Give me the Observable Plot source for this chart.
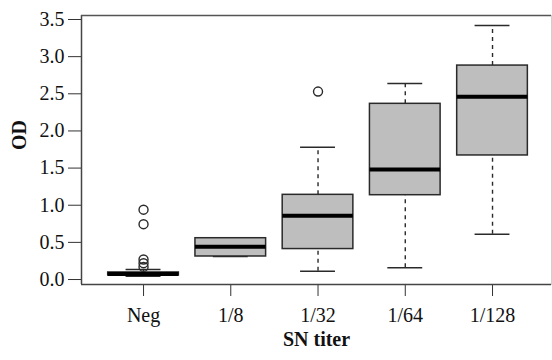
<!DOCTYPE html>
<html>
<head>
<meta charset="utf-8">
<script src="https://cdn.jsdelivr.net/npm/d3@7"></script>
<script src="https://cdn.jsdelivr.net/npm/@observablehq/plot@0.6"></script>
<style>
  html, body { margin: 0; padding: 0; background: #fff; }
  #chart svg { display: block; }
</style>
</head>
<body>
<div id="chart"></div>
<script>
// Data
const categories   = ["Neg", "1/8", "1/32", "1/64", "1/128"];
const lowerWhisker = [0.045, 0.31, 0.11, 0.16, 0.61];
const q1           = [0.055, 0.31, 0.41, 1.135, 1.67];
const median       = [0.075, 0.44, 0.86, 1.48, 2.46];
const q3           = [0.095, 0.556, 1.14, 2.365, 2.88];
const upperWhisker = [0.135, 0.556, 1.78, 2.64, 3.42];
const outlierGroup = ["Neg", "Neg", "Neg", "Neg", "Neg", "1/32"];
const outlierValue = [0.94, 0.745, 0.27, 0.22, 0.17, 2.53];
const yTicks = [0, 0.5, 1, 1.5, 2, 2.5, 3, 3.5];

const boxes = categories.map((c, i) => ({
  cat: c, pos: i + 1,
  lo: lowerWhisker[i], q1: q1[i], med: median[i], q3: q3[i], hi: upperWhisker[i]
}));
const outliers = outlierGroup.map((c, i) => ({ pos: categories.indexOf(c) + 1, v: outlierValue[i] }));

const HB = 0.405; // half box width (x units)
const HC = 0.2;   // half cap width
const ink = "#2a2a2a";

const chart = Plot.plot({
  width: 552,
  height: 360,
  marginLeft: 81,
  marginRight: 1,
  marginTop: 15,
  marginBottom: 76,
  style: { fontFamily: "Liberation Serif", fontSize: "20px", color: "#111", background: "#fff" },
  x: { type: "linear", domain: [0.289, 5.676] },
  y: { domain: [-0.067, 3.554] },
  marks: [
    Plot.frame({ stroke: "#d0d0d0", strokeWidth: 1 }),
    // whiskers
    Plot.ruleX(boxes, { x: "pos", y1: "q3", y2: "hi", stroke: ink, strokeWidth: 1.4, strokeDasharray: "4,4" }),
    Plot.ruleX(boxes, { x: "pos", y1: "lo", y2: "q1", stroke: ink, strokeWidth: 1.4, strokeDasharray: "4,4" }),
    // caps
    Plot.ruleY(boxes, { y: "hi", x1: d => d.pos - HC, x2: d => d.pos + HC, stroke: ink, strokeWidth: 1.5 }),
    Plot.ruleY(boxes, { y: "lo", x1: d => d.pos - HC, x2: d => d.pos + HC, stroke: ink, strokeWidth: 1.5 }),
    // boxes
    Plot.rect(boxes, { x1: d => d.pos - HB, x2: d => d.pos + HB, y1: "q1", y2: "q3", fill: "#bebebe", stroke: ink, strokeWidth: 1.5 }),
    // medians
    Plot.ruleY(boxes, { y: "med", x1: d => d.pos - HB, x2: d => d.pos + HB, stroke: "#000", strokeWidth: 4 }),
    // outliers
    Plot.dot(outliers, { x: "pos", y: "v", r: 4.5, stroke: ink, strokeWidth: 1.4, fill: "none" }),
    // axes
    Plot.axisY({ ticks: yTicks, tickFormat: d => d.toFixed(1), tickSize: 13, tickPadding: 4, label: null, stroke: "#333" }),
    Plot.axisX({ ticks: [1, 2, 3, 4, 5], tickFormat: d => categories[d - 1], tickSize: 12, tickPadding: 11, label: null, stroke: "#333" }),
    Plot.ruleY([-0.067], { stroke: "#444", strokeWidth: 1.5 }),
    Plot.ruleX([0.289], { stroke: "#444", strokeWidth: 1.5 }),
    Plot.ruleY([3.554], { stroke: "#555", strokeWidth: 1.5 }),
    // axis titles
    Plot.text(["SN titer"], { frameAnchor: "bottom", dy: 61, fontWeight: "bold", fontSize: 20, fill: "#111" }),
    Plot.text(["OD"], { frameAnchor: "left", dx: -62, rotate: -90, fontWeight: "bold", fontSize: 20, fill: "#111" })
  ]
});
document.getElementById("chart").appendChild(chart);
</script>
</body>
</html>
